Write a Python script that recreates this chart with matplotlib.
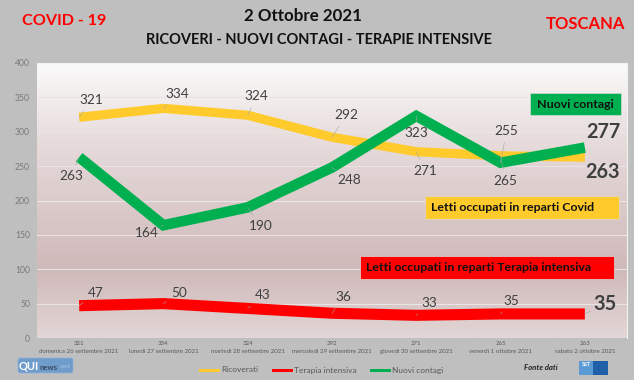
#!/usr/bin/env python3
# plot.py - covid toscana, 2 ottobre 2021
import numpy as np
import matplotlib
matplotlib.use("Agg")
import matplotlib.pyplot as plt
from matplotlib.colors import LinearSegmentedColormap
from matplotlib.patches import Rectangle, FancyBboxPatch

plt.rcParams['font.family'] = ['Lato', 'DejaVu Sans']

W, H = 634, 380

giorni = ["domenica 26 settembre 2021", "lunedì 27 settembre 2021", "martedì 28 settembre 2021",
          "mercoledì 29 settembre 2021", "giovedì 30 settembre 2021", "venerdì 1 ottobre 2021",
          "sabato 2 ottobre 2021"]
ricoverati = [321, 334, 324, 292, 271, 265, 263]
terapia = [47, 50, 43, 36, 33, 35, 35]
contagi = [263, 164, 190, 248, 323, 255, 277]
yticks = [0, 50, 100, 150, 200, 250, 300, 350, 400]

# label offsets from the point in pixels (dx, dy up)
off_ric = [(12, 17), (14, 14), (9, 19), (14, 22), (9, -19), (5, -25)]
off_con = [(-8, -19), (-17, -8), (13, -19), (17, -13), (0, -17), (6, 32)]
off_ter = [(17, 13), (16, 11), (15, 13), (11, 16), (13, 12), (11, 13)]

YELLOW = "#ffca2b"
GREEN = "#00b050"
RED = "#ff0000"
GREY = "#404040"

def fx(x):
    return x / W

def fy(y):
    return 1 - y / H

fig = plt.figure(figsize=(W / 100, H / 100), dpi=100, facecolor="#bfbfbf")
ax = fig.add_axes([fx(37), fy(338), 590 / W, 275 / H])

# plot area gradient
cmap = LinearSegmentedColormap.from_list("bg", [(0, "#fbfafa"), (0.3, "#e6dada"), (0.75, "#cfb9b9"), (1, "#e3d6d6")])
ax.imshow(np.linspace(0, 1, 256).reshape(-1, 1), extent=[-0.5, 6.5, 0, 400], aspect="auto", cmap=cmap, zorder=0)

x = np.arange(len(giorni))
ax.set_xlim(-0.5, 6.5)
ax.set_ylim(0, 400)
ax.set_yticks(yticks)
ax.set_xticks(x)
ax.set_xticklabels([f"{r}\n{g}" for r, g in zip(ricoverati, giorni)], fontsize=4.4, color="#595959", linespacing=1.7)
ax.tick_params(axis="both", length=0)
ax.tick_params(axis="y", labelsize=6.2, labelcolor="#7a7a7a", pad=5)
ax.tick_params(axis="x", pad=2.5)
ax.grid(axis="y", color="#ebe4e4", lw=0.8, zorder=1)
for s in ax.spines.values():
    s.set_visible(False)
for s in ("top", "right"):
    ax.spines[s].set_visible(True)
    ax.spines[s].set_color("#f2f2f2")

ax.plot(x, ricoverati, color=YELLOW, lw=6.6, solid_capstyle="butt", solid_joinstyle="round", zorder=3, label="Ricoverati")
ax.plot(x, terapia, color=RED, lw=8, solid_capstyle="butt", solid_joinstyle="round", zorder=3, label="Terapia intensiva")
ax.plot(x, contagi, color=GREEN, lw=7.6, solid_capstyle="butt", solid_joinstyle="miter", zorder=4, label="Nuovi contagi")

def labels(values, offsets):
    for i, (v, o) in enumerate(zip(values, offsets)):
        ax.annotate(str(v), (i, v), xytext=o, textcoords="offset pixels", ha="center", va="center",
                    fontsize=9.8, color=GREY, zorder=6,
                    arrowprops=dict(arrowstyle="-", color="#a6a6a6", lw=0.4, shrinkA=2, shrinkB=0))

labels(ricoverati, off_ric)
labels(contagi, off_con)
labels(terapia, off_ter)

# last points, bigger
ax.annotate(str(contagi[-1]), (6, contagi[-1]), xytext=(19, 16), textcoords="offset pixels", ha="center", va="center",
            fontsize=14.3, fontweight="bold", color=GREY, zorder=6)
ax.annotate(str(ricoverati[-1]), (6, ricoverati[-1]), xytext=(18, -15), textcoords="offset pixels", ha="center", va="center",
            fontsize=14.3, fontweight="bold", color=GREY, zorder=6)
ax.annotate(str(terapia[-1]), (6, terapia[-1]), xytext=(20, 10), textcoords="offset pixels", ha="center", va="center",
            fontsize=14.3, fontweight="bold", color=GREY, zorder=6,
            arrowprops=dict(arrowstyle="-", color="#a6a6a6", lw=0.4, shrinkA=9, shrinkB=0))

# headings
fig.text(fx(303), fy(16), "2 Ottobre 2021", ha="center", va="center", fontsize=12.2, fontweight="bold", color="#111111")
fig.text(fx(319), fy(40), "RICOVERI - NUOVI CONTAGI - TERAPIE INTENSIVE", ha="center", va="center", fontsize=10.5, fontweight="bold", color="#111111")
fig.text(fx(64), fy(21), "COVID - 19", ha="center", va="center", fontsize=11.6, fontweight="bold", color=RED)
fig.text(fx(585), fy(24), "TOSCANA", ha="center", va="center", fontsize=12, fontweight="bold", color=RED)

def box(x0, y0, x1, y1, color, txt, tx):
    fig.add_artist(Rectangle((fx(x0), fy(y1)), (x1 - x0) / W, (y1 - y0) / H, transform=fig.transFigure,
                             facecolor=color, edgecolor="#d9d9d9", lw=0.5, zorder=7))
    fig.text(fx(tx), fy((y0 + y1) / 2), txt, ha="left", va="center", fontsize=8.9, fontweight="bold", color="#111111", zorder=8)

box(530, 93, 621, 115, GREEN, "Nuovi contagi", 537)
box(425, 196, 619, 219, YELLOW, "Letti occupati in reparti Covid", 431)
box(360, 256, 614, 279, RED, "Letti occupati in reparti Terapia intensiva", 366)

# legend
for x0, x1, c, name in [(199, 220, YELLOW, "Ricoverati"), (272, 293, RED, "Terapia intensiva"), (370, 391, GREEN, "Nuovi contagi")]:
    fig.add_artist(Rectangle((fx(x0), fy(372)), (x1 - x0) / W, 3 / H, transform=fig.transFigure, facecolor=c, edgecolor="none"))
    fig.text(fx(x1 + 1), fy(370), name, ha="left", va="center", fontsize=6, color="#595959")

# logos
fig.add_artist(FancyBboxPatch((fx(18), fy(373)), 55 / W, 15 / H, boxstyle="round,pad=0,rounding_size=0.004",
                              transform=fig.transFigure, facecolor="#6f9ccb", edgecolor="#8fb3d8", lw=0.5))
fig.text(fx(19), fy(366), "QUI", ha="left", va="center", fontsize=8, fontweight="bold", color="white")
fig.text(fx(39), fy(367), "news", ha="left", va="center", fontsize=5.6, fontweight="bold", color="#3a4a60")
fig.text(fx(60), fy(367), ".net", ha="left", va="center", fontsize=4.6, color="#a8c4e0")
fig.text(fx(541), fy(368), "Fonte dati", ha="center", va="center", fontsize=5.6, fontweight="bold", style="italic", color="#222222")
fig.add_artist(Rectangle((fx(579), fy(375)), 14 / W, 14 / H, transform=fig.transFigure, facecolor="#5b9bd5", edgecolor="none"))
fig.add_artist(Rectangle((fx(593), fy(375)), 15 / W, 14 / H, transform=fig.transFigure, facecolor="#1f5fa8", edgecolor="none"))
fig.text(fx(586), fy(364), "SST", ha="center", va="center", fontsize=4, fontweight="bold", color="white")

fig.savefig("out.png", dpi=100, facecolor=fig.get_facecolor())
